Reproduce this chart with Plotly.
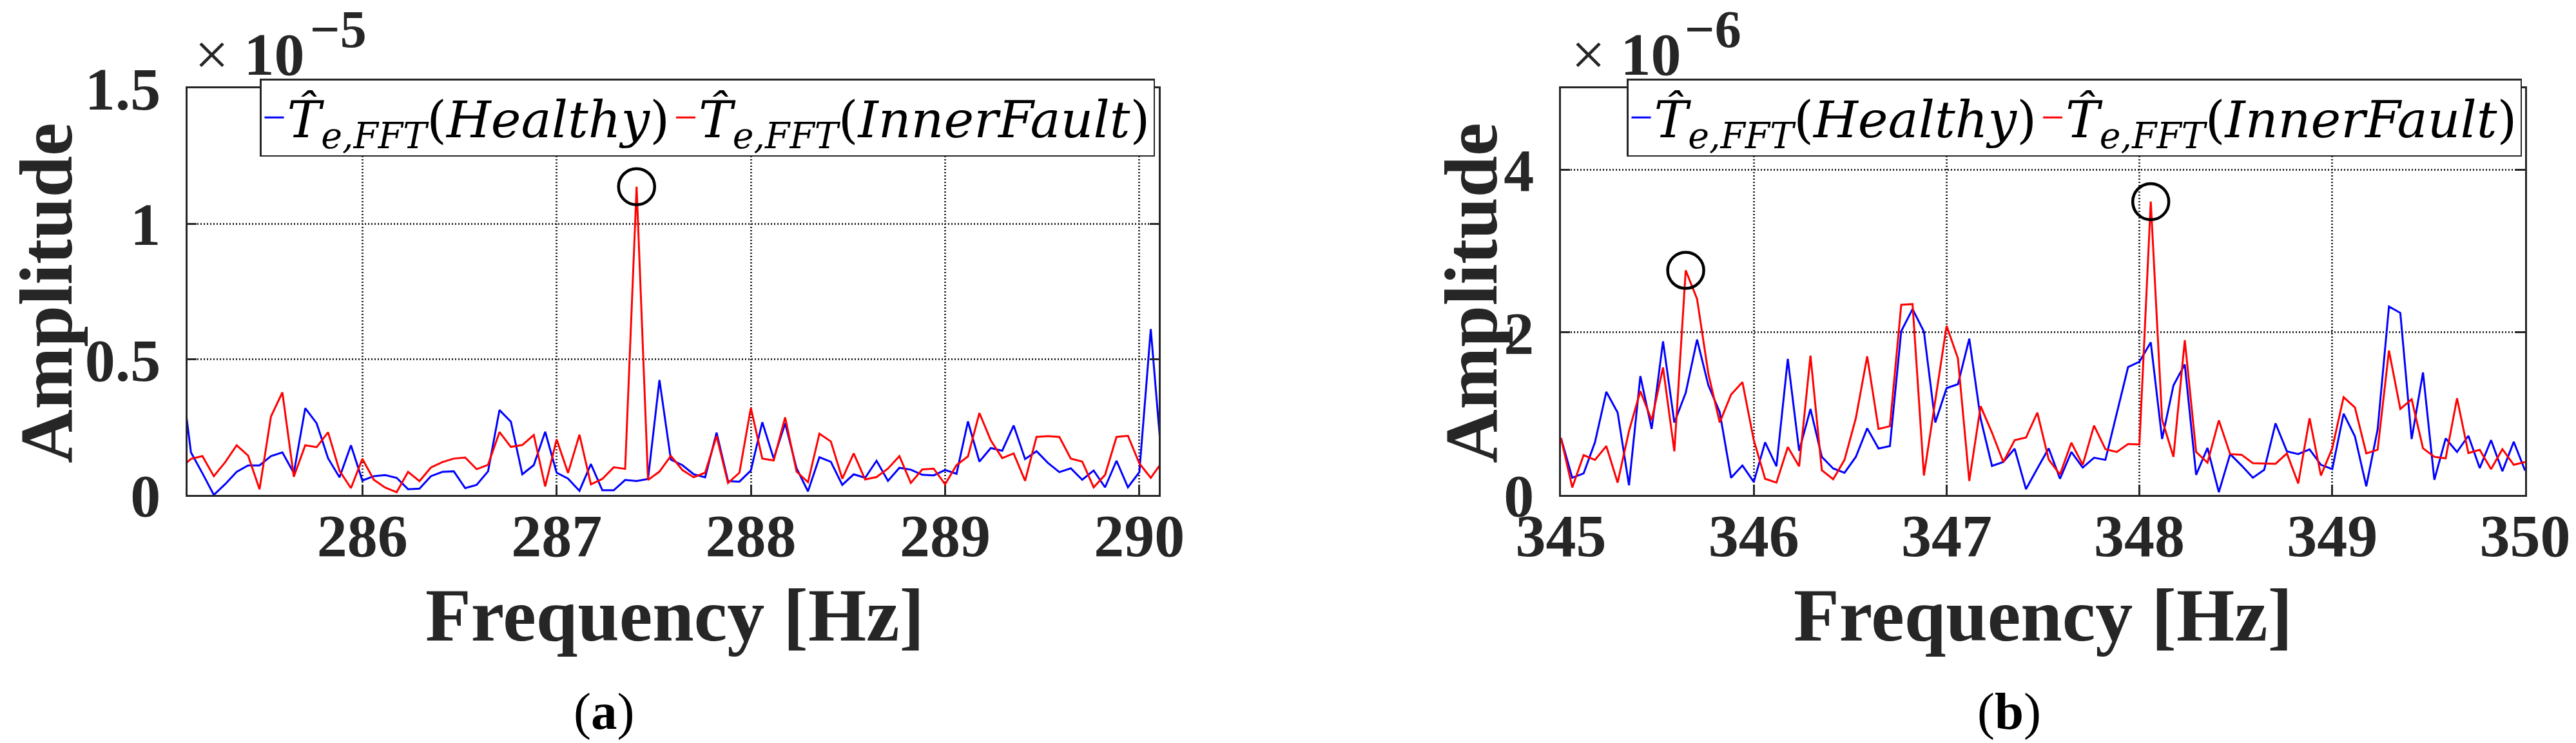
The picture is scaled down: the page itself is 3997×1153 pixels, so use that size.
import plotly.graph_objects as go

# ---------------- data ----------------
# Panel (a): amplitudes in units of 1e-5
FREQ_A = [
    285.0588, 285.1176, 285.1765, 285.2353, 285.2941, 285.3529, 285.4118, 285.4706,
    285.5294, 285.5882, 285.6471, 285.7059, 285.7647, 285.8235, 285.8824, 285.9412,
    286.0000, 286.0588, 286.1176, 286.1765, 286.2353, 286.2941, 286.3529, 286.4118,
    286.4706, 286.5294, 286.5882, 286.6471, 286.7059, 286.7647, 286.8235, 286.8824, 286.9412,
    287.0000, 287.0588, 287.1176, 287.1765, 287.2353, 287.2941, 287.3529, 287.4118,
    287.4706, 287.5294, 287.5882, 287.6471, 287.7059, 287.7647, 287.8235, 287.8824, 287.9412,
    288.0000, 288.0588, 288.1176, 288.1765, 288.2353, 288.2941, 288.3529, 288.4118,
    288.4706, 288.5294, 288.5882, 288.6471, 288.7059, 288.7647, 288.8235, 288.8824, 288.9412,
    289.0000, 289.0588, 289.1176, 289.1765, 289.2353, 289.2941, 289.3529, 289.4118,
    289.4706, 289.5294, 289.5882, 289.6471, 289.7059, 289.7647, 289.8235, 289.8824, 289.9412,
    290.0000, 290.0588, 290.1176,
]
HEALTHY_A = [
    0.490, 0.157, 0.080, 0.000, 0.040, 0.085, 0.109, 0.109, 0.143, 0.157, 0.081, 0.320,
    0.264, 0.135, 0.065, 0.183,
    0.053, 0.069, 0.073, 0.063, 0.021, 0.023, 0.069, 0.085, 0.087, 0.025, 0.037, 0.087,
    0.313, 0.270, 0.076, 0.110, 0.233,
    0.082, 0.060, 0.015, 0.114, 0.017, 0.017, 0.055, 0.051, 0.059, 0.424, 0.130, 0.110,
    0.076, 0.065, 0.230, 0.051, 0.049,
    0.090, 0.268, 0.134, 0.264, 0.098, 0.013, 0.139, 0.122, 0.037, 0.076, 0.063, 0.126,
    0.052, 0.100, 0.093, 0.074, 0.072,
    0.092, 0.078, 0.271, 0.123, 0.173, 0.163, 0.256, 0.132, 0.161, 0.118, 0.084, 0.098,
    0.056, 0.090, 0.028, 0.126, 0.028,
    0.084, 0.612, 0.107,
]
FAULT_A = [
    0.095, 0.133, 0.143, 0.069, 0.121, 0.183, 0.145, 0.021, 0.289, 0.378, 0.067, 0.183,
    0.176, 0.231, 0.089, 0.025,
    0.133, 0.056, 0.027, 0.010, 0.085, 0.051, 0.101, 0.121, 0.134, 0.138, 0.095, 0.111,
    0.232, 0.177, 0.184, 0.221, 0.031,
    0.205, 0.081, 0.222, 0.039, 0.059, 0.102, 0.096, 1.137, 0.055, 0.086, 0.144, 0.092,
    0.065, 0.082, 0.217, 0.044, 0.082,
    0.321, 0.134, 0.127, 0.286, 0.086, 0.047, 0.226, 0.197, 0.060, 0.153, 0.057, 0.066,
    0.097, 0.143, 0.044, 0.094, 0.097,
    0.039, 0.110, 0.142, 0.302, 0.201, 0.136, 0.153, 0.052, 0.214, 0.217, 0.214, 0.134,
    0.123, 0.028, 0.074, 0.214, 0.218,
    0.116, 0.063, 0.122,
]

# Panel (b): amplitudes in units of 1e-6
FREQ_B = [
    345.0000, 345.0588, 345.1176, 345.1765, 345.2353, 345.2941, 345.3529, 345.4118,
    345.4706, 345.5294, 345.5882, 345.6471, 345.7059, 345.7647, 345.8235, 345.8824, 345.9412,
    346.0000, 346.0588, 346.1176, 346.1765, 346.2353, 346.2941, 346.3529, 346.4118,
    346.4706, 346.5294, 346.5882, 346.6471, 346.7059, 346.7647, 346.8235, 346.8824, 346.9412,
    347.0000, 347.0588, 347.1176, 347.1765, 347.2353, 347.2941, 347.3529, 347.4118,
    347.4706, 347.5294, 347.5882, 347.6471, 347.7059, 347.7647, 347.8235, 347.8824, 347.9412,
    348.0000, 348.0588, 348.1176, 348.1765, 348.2353, 348.2941, 348.3529, 348.4118,
    348.4706, 348.5294, 348.5882, 348.6471, 348.7059, 348.7647, 348.8235, 348.8824, 348.9412,
    349.0000, 349.0588, 349.1176, 349.1765, 349.2353, 349.2941, 349.3529, 349.4118,
    349.4706, 349.5294, 349.5882, 349.6471, 349.7059, 349.7647, 349.8235, 349.8824, 349.9412,
    350.0000,
]
HEALTHY_B = [
    0.700, 0.211, 0.264, 0.647, 1.268, 1.012, 0.119, 1.461, 0.811, 1.889, 0.890, 1.255,
    1.910, 1.347, 1.017, 0.211, 0.362,
    0.159, 0.647, 0.351, 1.672, 0.542, 1.057, 0.468, 0.325, 0.272, 0.468, 0.819, 0.570,
    0.600, 2.013, 2.285, 2.008, 0.890,
    1.313, 1.361, 1.921, 0.938, 0.357, 0.404, 0.568, 0.071, 0.325, 0.573, 0.198, 0.528,
    0.336, 0.457, 0.431, 1.012, 1.572,
    1.638, 1.876, 0.687, 1.347, 1.604, 0.246, 0.577, 0.034, 0.502, 0.362, 0.211, 0.309,
    0.880, 0.536, 0.502, 0.560, 0.370,
    0.317, 0.999, 0.719, 0.106, 0.806, 2.317, 2.238, 0.687, 1.506, 0.185, 0.695, 0.528,
    0.727, 0.330, 0.674, 0.291, 0.653,
    0.299,
]
FAULT_B = [
    0.700, 0.092, 0.489, 0.431, 0.600, 0.151, 0.785, 1.276, 0.917, 1.567, 0.536, 2.761,
    2.410, 1.487, 0.890, 1.234, 1.387,
    0.674, 0.198, 0.151, 0.589, 0.351, 1.712, 0.304, 0.193, 0.431, 0.943, 1.704, 0.811,
    0.845, 2.338, 2.346, 0.238, 1.150,
    2.079, 1.678, 0.172, 1.091, 0.766, 0.404, 0.674, 0.705, 1.012, 0.436, 0.251, 0.642,
    0.370, 0.853, 0.563, 0.528, 0.626,
    0.621, 3.606, 0.925, 0.468, 1.902, 0.528, 0.396, 0.917, 0.502, 0.494, 0.391, 0.388,
    0.383, 0.510, 0.140, 0.943, 0.238,
    0.573, 1.202, 1.075, 0.510, 0.555, 1.775, 1.057, 1.176, 0.573, 0.468, 0.449, 1.189,
    0.515, 0.555, 0.317, 0.563, 0.370,
    0.404,
]

CIRCLED_A = [287.4118]
CIRCLED_B = [345.6471, 348.0588]

X_RANGE_A = [285.1, 290.1]
X_TICKS_A = [286, 287, 288, 289, 290]
Y_RANGE_A = [0, 1.5]
Y_TICKS_A = [0, 0.5, 1, 1.5]
Y_TICK_LABELS_A = ["0", "0.5", "1", "1.5"]
X_RANGE_B = [345, 350]
X_TICKS_B = [345, 346, 347, 348, 349, 350]
Y_RANGE_B = [0, 5]
Y_TICKS_B = [0, 2, 4]
Y_TICK_LABELS_B = ["0", "2", "4"]

NAME_H = "<i>T\u0302</i><sub><i>e,FFT</i></sub>(<i>Healthy</i>)"
NAME_F = "<i>T\u0302</i><sub><i>e,FFT</i></sub>(<i>InnerFault</i>)"

# ---------------- figure ----------------
W, H = 3997, 1153
INK = "#262626"
SERIF = "Liberation Serif"

PLOT_TOP, PLOT_BOT = 137, 768
A_L, A_R = 291, 1798
B_L, B_R = 2422, 3918


def px_x(p):
    return p / W


def py(p):
    # paper y (plot area spans PLOT_TOP..PLOT_BOT in pixels, margins fixed)
    return (PLOT_BOT - p) / (PLOT_BOT - PLOT_TOP)


fig = go.Figure()

fig.add_trace(go.Scatter(x=FREQ_A, y=HEALTHY_A, mode="lines", name=NAME_H,
                         line=dict(color="#0000FF", width=3), xaxis="x", yaxis="y",
                         legend="legend"))
fig.add_trace(go.Scatter(x=FREQ_A, y=FAULT_A, mode="lines", name=NAME_F,
                         line=dict(color="#FF0000", width=3), xaxis="x", yaxis="y",
                         legend="legend"))
fig.add_trace(go.Scatter(x=FREQ_B, y=HEALTHY_B, mode="lines", name=NAME_H,
                         line=dict(color="#0000FF", width=3), xaxis="x2", yaxis="y2",
                         legend="legend2"))
fig.add_trace(go.Scatter(x=FREQ_B, y=FAULT_B, mode="lines", name=NAME_F,
                         line=dict(color="#FF0000", width=3), xaxis="x2", yaxis="y2",
                         legend="legend2"))

# circles around the fault peaks (positions looked up from the data)
circ_a_y = [FAULT_A[FREQ_A.index(f)] for f in CIRCLED_A]
circ_b_y = [FAULT_B[FREQ_B.index(f)] for f in CIRCLED_B]
for xs, ys, xa, ya in [(CIRCLED_A, circ_a_y, "x", "y"), (CIRCLED_B, circ_b_y, "x2", "y2")]:
    fig.add_trace(go.Scatter(x=xs, y=ys, mode="markers", showlegend=False, hoverinfo="skip",
                             marker=dict(symbol="circle-open", size=56, color="black",
                                         line=dict(color="black", width=4.5)),
                             cliponaxis=False, xaxis=xa, yaxis=ya))

TICK_FONT = dict(family=SERIF, size=94, color=INK, weight="bold")
common_axis = dict(showline=True, linecolor=INK, linewidth=3, mirror="ticks",
                   ticks="inside", ticklen=14, tickwidth=3, tickcolor=INK,
                   showgrid=True, gridcolor="#2a2a2a", gridwidth=2.5, griddash="2px,3px",
                   zeroline=False, tickfont=TICK_FONT, automargin=False)

fig.update_layout(
    width=W, height=H, autosize=False,
    margin=dict(l=0, r=0, t=PLOT_TOP, b=H - PLOT_BOT, autoexpand=False),
    paper_bgcolor="white", plot_bgcolor="white",
    xaxis=dict(domain=[px_x(A_L), px_x(A_R)], range=X_RANGE_A, tickvals=X_TICKS_A,
               ticktext=[str(t) for t in X_TICKS_A], anchor="y", ticklabelstandoff=-21,
               **common_axis),
    yaxis=dict(domain=[0, 1], range=Y_RANGE_A, tickvals=Y_TICKS_A,
               ticktext=Y_TICK_LABELS_A, anchor="x", ticklabelstandoff=20, **common_axis),
    xaxis2=dict(domain=[px_x(B_L), px_x(B_R)], range=X_RANGE_B, tickvals=X_TICKS_B,
                ticktext=[str(t) for t in X_TICKS_B], anchor="y2", ticklabelstandoff=-21,
                **common_axis),
    yaxis2=dict(domain=[0, 1], range=Y_RANGE_B, tickvals=Y_TICKS_B,
                ticktext=Y_TICK_LABELS_B, anchor="x2", ticklabelstandoff=20, **common_axis),
    showlegend=True,
)

LEGEND_COMMON = dict(orientation="h", xref="paper", yref="paper", xanchor="right",
                     yanchor="top", y=py(122), bgcolor="white", bordercolor=INK,
                     borderwidth=2.5, font=dict(family="DejaVu Serif", size=79, color="black"),
                     itemwidth=30, tracegroupgap=0)
fig.update_layout(legend=dict(x=px_x(1792), **LEGEND_COMMON),
                  legend2=dict(x=px_x(3913), **LEGEND_COMMON))

TITLE_FONT = dict(family=SERIF, size=116, color=INK, weight="bold")
EXP_FONT = dict(family=SERIF, size=94, color=INK)
SUP_FONT = dict(family=SERIF, size=82, color=INK, weight="bold")
annotations = [
    dict(text="Frequency [Hz]", x=px_x(1047), y=py(955), xanchor="center", yanchor="middle",
         font=TITLE_FONT),
    dict(text="Frequency [Hz]", x=px_x(3170), y=py(955), xanchor="center", yanchor="middle",
         font=TITLE_FONT),
    dict(text="Amplitude", x=px_x(72), y=py(455), textangle=-90, xanchor="center",
         yanchor="middle", font=TITLE_FONT),
    dict(text="Amplitude", x=px_x(2283), y=py(455), textangle=-90, xanchor="center",
         yanchor="middle", font=TITLE_FONT),
    dict(text="× <b>10</b>", x=px_x(300), y=py(138), xanchor="left", yanchor="bottom",
         font=EXP_FONT),
    dict(text="−5", x=px_x(479), y=py(93), xanchor="left", yanchor="bottom", font=SUP_FONT),
    dict(text="× <b>10</b>", x=px_x(2436), y=py(138), xanchor="left", yanchor="bottom",
         font=EXP_FONT),
    dict(text="−6", x=px_x(2612), y=py(93), xanchor="left", yanchor="bottom", font=SUP_FONT),
    dict(text="(<b>a</b>)", x=px_x(937), y=py(1104), xanchor="center", yanchor="middle",
         font=dict(family=SERIF, size=81, color="black")),
    dict(text="(<b>b</b>)", x=px_x(3117), y=py(1104), xanchor="center", yanchor="middle",
         font=dict(family=SERIF, size=81, color="black")),
]
for a in annotations:
    a.update(xref="paper", yref="paper", showarrow=False)
fig.update_layout(annotations=annotations)

fig.write_html("out.html", config={"displayModeBar": False},
               post_script="document.body.style.margin='0px';")
